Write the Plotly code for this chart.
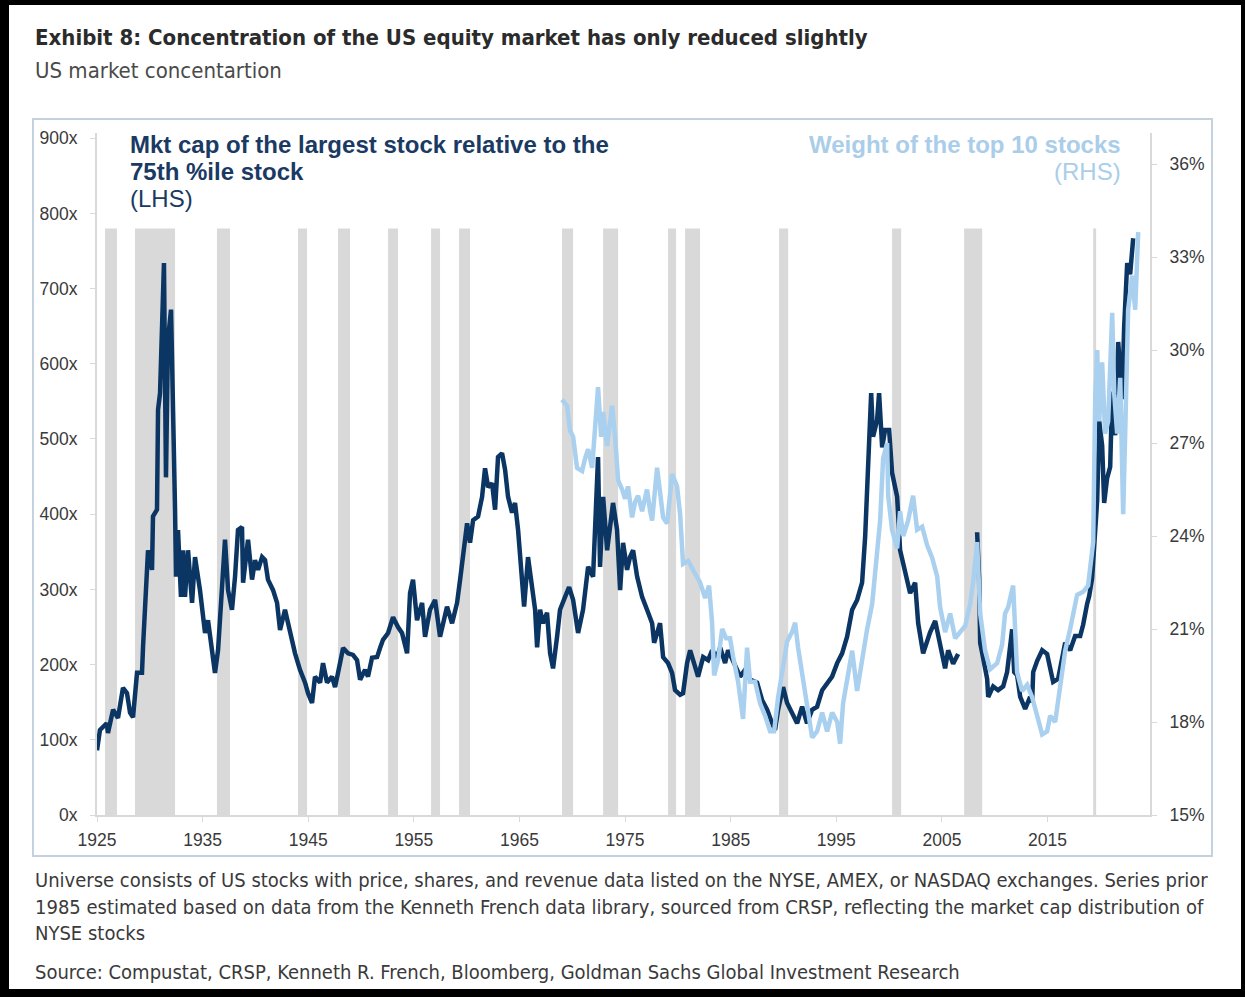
import plotly.graph_objects as go

# ---- data -------------------------------------------------------------
# Market cap of the largest stock relative to the 75th percentile stock (LHS, x)
dark_year = [
    1925.00, 1925.28, 1925.92, 1926.04, 1926.52, 1926.99, 1927.46, 1927.84, 1928.13, 1928.41,
    1928.79, 1929.26, 1929.36, 1929.73, 1929.83, 1930.21, 1930.30, 1930.68, 1930.78, 1930.97,
    1931.34, 1931.53, 1931.72, 1932.01, 1932.20, 1932.39, 1932.48, 1932.67, 1932.95, 1933.14,
    1933.33, 1933.62, 1934.00, 1934.28, 1934.75, 1935.23, 1935.51, 1935.89, 1936.17, 1936.46,
    1936.84, 1937.12, 1937.41, 1937.78, 1938.07, 1938.35, 1938.73, 1938.83, 1939.30, 1939.68,
    1939.96, 1940.25, 1940.63, 1940.91, 1941.19, 1941.67, 1942.05, 1942.33, 1942.80, 1943.28,
    1943.75, 1944.22, 1944.70, 1944.98, 1945.36, 1945.64, 1946.12, 1946.40, 1946.78, 1947.25,
    1947.54, 1947.82, 1948.30, 1948.77, 1949.24, 1949.62, 1949.91, 1950.38, 1950.66, 1951.04,
    1951.52, 1951.80, 1952.08, 1952.56, 1953.03, 1953.50, 1953.88, 1954.36, 1954.64, 1954.92,
    1955.30, 1955.78, 1956.06, 1956.53, 1957.01, 1957.48, 1958.14, 1958.62, 1959.09, 1959.38,
    1959.66, 1960.04, 1960.32, 1960.61, 1961.08, 1961.46, 1961.74, 1962.03, 1962.41, 1962.69,
    1962.97, 1963.35, 1963.64, 1963.92, 1964.30, 1964.58, 1964.87, 1965.25, 1965.44, 1965.81,
    1966.19, 1966.48, 1966.67, 1966.95, 1967.23, 1967.61, 1967.90, 1968.18, 1968.56, 1968.84,
    1969.32, 1969.70, 1970.08, 1970.55, 1971.02, 1971.50, 1971.97, 1972.25, 1972.44, 1972.63,
    1972.92, 1973.30, 1973.58, 1973.86, 1974.24, 1974.53, 1974.81, 1975.19, 1975.47, 1975.76,
    1976.14, 1976.61, 1977.08, 1977.56, 1977.75, 1978.31, 1978.60, 1979.07, 1979.45, 1979.73,
    1980.21, 1980.49, 1980.87, 1981.16, 1981.44, 1981.91, 1982.39, 1982.86, 1983.24, 1983.71,
    1984.00, 1984.47, 1984.75, 1985.13, 1985.61, 1985.89, 1986.36, 1986.84, 1987.50, 1987.97,
    1988.45, 1988.92, 1989.20, 1989.49, 1989.96, 1990.34, 1990.81, 1991.29, 1991.76, 1992.23,
    1992.71, 1993.18, 1993.66, 1994.13, 1994.60, 1995.08, 1995.55, 1996.02, 1996.50, 1996.97,
    1997.44, 1997.73, 1998.01, 1998.30, 1998.48, 1998.86, 1999.05, 1999.34, 1999.62, 2000.00,
    2000.28, 2000.76, 2001.04, 2001.52, 2001.99, 2002.46, 2002.75, 2003.22, 2003.69, 2003.88,
    2004.36, 2004.83, 2005.30, 2005.59, 2006.06, 2006.53, 2007.40, 2008.33, 2008.52, 2008.62,
    2008.90, 2009.28, 2009.38, 2009.85, 2010.32, 2010.80, 2011.17, 2011.46, 2011.65, 2011.84,
    2012.12, 2012.41, 2012.88, 2013.35, 2013.54, 2013.64, 2014.02, 2014.49, 2014.96, 2015.25,
    2015.53, 2016.00, 2016.38, 2016.67, 2017.14, 2017.61, 2018.09, 2018.37, 2018.75, 2018.94,
    2019.22, 2019.41, 2019.70, 2019.89, 2020.17, 2020.36, 2020.64, 2020.93, 2021.12, 2021.40,
    2021.69, 2022.06, 2022.25, 2022.54, 2022.82, 2023.11,
]
dark_val = [
    86, 113, 122, 109, 140, 129, 169, 162, 136, 130,
    189, 189, 224, 317, 352, 326, 397, 406, 539, 561,
    734, 449, 632, 672, 556, 406, 317, 379, 290, 352,
    290, 352, 282, 343, 299, 242, 259, 219, 189, 219,
    309, 366, 299, 273, 317, 379, 383, 309, 366, 313,
    339, 326, 343, 339, 313, 299, 282, 246, 273, 242,
    215, 193, 176, 162, 149, 184, 176, 202, 176, 184,
    170, 189, 222, 215, 213, 206, 180, 193, 184, 209,
    210, 222, 233, 242, 263, 250, 242, 215, 295, 313,
    259, 282, 237, 273, 286, 237, 277, 255, 282, 313,
    343, 388, 362, 392, 397, 423, 461, 436, 441, 406,
    476, 481, 459, 423, 402, 415, 379, 309, 277, 343,
    303, 273, 223, 273, 255, 269, 215, 195, 237, 273,
    290, 303, 286, 242, 273, 330, 317, 415, 476, 330,
    423, 352, 388, 415, 379, 299, 362, 326, 343, 352,
    317, 290, 273, 255, 229, 255, 210, 202, 189, 166,
    160, 162, 202, 219, 206, 184, 210, 206, 219, 210,
    223, 202, 219, 206, 193, 184, 193, 180, 176, 153,
    140, 122, 113, 140, 170, 149, 136, 122, 144, 122,
    140, 144, 166, 176, 184, 202, 215, 237, 273, 286,
    309, 370, 459, 561, 503, 525, 561, 489, 512, 512,
    455, 423, 352, 326, 295, 309, 255, 215, 237, 243,
    258, 223, 195, 219, 201, 214, None, 376, 315, 229,
    210, 181, 157, 171, 166, 171, 190, 229, 247, 190,
    186, 157, 141, 157, 150, 190, 205, 219, 214, 195,
    177, 181, 210, 229, 219, 238, 238, 253, 281, 291,
    315, 362, 419, 524, 491, 415, 448, 463, 563, 505,
    629, 553, 648, 734, 719, 767,
]

# Weight of the top 10 stocks (RHS, %)
light_year = [
    1969.03, 1969.51, 1969.79, 1970.08, 1970.45, 1970.93, 1971.21, 1971.50, 1971.88, 1972.16,
    1972.44, 1972.73, 1972.92, 1973.30, 1973.77, 1974.05, 1974.34, 1974.72, 1975.00, 1975.28,
    1975.66, 1975.95, 1976.23, 1976.61, 1977.08, 1977.37, 1977.56, 1978.03, 1978.60, 1978.98,
    1979.45, 1979.92, 1980.21, 1980.49, 1980.97, 1981.44, 1982.10, 1982.58, 1982.95, 1983.24,
    1983.43, 1983.81, 1984.19, 1984.57, 1984.94, 1985.23, 1985.70, 1986.17, 1986.55, 1986.84,
    1987.31, 1987.78, 1988.26, 1988.73, 1989.11, 1989.49, 1989.87, 1990.34, 1990.81, 1991.10,
    1991.38, 1991.86, 1992.33, 1992.71, 1993.18, 1993.66, 1994.13, 1994.60, 1995.08, 1995.36,
    1995.64, 1996.12, 1996.50, 1996.97, 1997.44, 1997.92, 1998.39, 1998.86, 1999.15, 1999.43,
    1999.81, 1999.91, 2000.28, 2000.76, 2001.04, 2001.33, 2001.80, 2002.27, 2002.65, 2003.13,
    2003.60, 2004.07, 2004.55, 2004.83, 2005.30, 2005.78, 2006.25, 2006.72, 2007.20, 2007.67,
    2007.95, 2008.33, 2008.62, 2009.09, 2009.56, 2010.23, 2010.70, 2010.98, 2011.27, 2011.74,
    2012.12, 2012.59, 2013.07, 2013.54, 2014.02, 2014.49, 2014.96, 2015.25, 2015.72, 2016.19,
    2016.67, 2017.14, 2017.80, 2018.37, 2018.84, 2019.32, 2019.51, 2019.70, 2019.89, 2020.17,
    2020.45, 2020.74, 2021.12, 2021.31, 2021.59, 2021.88, 2022.16, 2022.35, 2022.63, 2023.01,
    2023.30, 2023.58,
]
light_val = [
    28.4, 28.2, 27.4, 27.2, 26.2, 26.1, 26.5, 26.8, 26.2, 27.4,
    28.8, 27.2, 28.0, 26.9, 28.2, 27.2, 25.8, 25.5, 25.2, 25.6,
    24.6, 25.1, 25.3, 24.8, 25.5, 24.8, 24.5, 26.2, 24.6, 24.4,
    26.0, 25.6, 24.7, 23.1, 23.2, 22.9, 22.5, 22.0, 22.4, 21.2,
    19.5, 20.0, 21.0, 20.7, 20.7, 20.1, 19.3, 18.1, 20.4, 19.3,
    19.3, 18.6, 18.2, 17.7, 17.7, 18.8, 19.7, 20.6, 20.9, 21.2,
    20.4, 19.3, 18.4, 17.5, 17.7, 18.3, 17.7, 18.3, 18.0, 17.3,
    18.6, 19.5, 20.3, 19.0, 20.1, 21.0, 21.8, 23.3, 24.5, 26.5,
    27.0, 25.3, 24.2, 23.6, 24.8, 24.0, 24.5, 25.3, 24.2, 24.3,
    23.7, 23.3, 22.7, 21.7, 20.9, 21.5, 20.7, 20.9, 21.1, 21.8,
    22.5, 23.8, 21.5, 20.3, 19.7, 19.9, 20.5, 21.5, 21.7, 22.4,
    19.6, 19.0, 19.2, 18.8, 18.2, 17.6, 17.7, 18.2, 18.0, 19.2,
    20.3, 21.0, 22.1, 22.2, 22.4, 23.8, 28.4, 30.0, 27.7, 29.6,
    27.3, 27.7, 31.2, 28.6, 27.3, 29.1, 24.7, 27.3, 31.3, 32.4,
    31.3, 33.8,
]

# Shaded recession periods
recession_start = [1925.76, 1928.60, 1936.36, 1944.03, 1947.82, 1952.56, 1956.63, 1959.28,
                   1969.03, 1972.92, 1979.07, 1980.68, 1989.58, 2000.28, 2007.10, 2019.32]
recession_end = [1926.89, 1932.39, 1937.59, 1944.89, 1948.96, 1953.50, 1957.48, 1960.32,
                 1970.08, 1974.34, 1979.83, 1982.10, 1990.44, 2001.14, 2008.81, 2019.60]
recession_top = 780

x_ticks = [1925, 1935, 1945, 1955, 1965, 1975, 1985, 1995, 2005, 2015]
lhs_ticks = [0, 100, 200, 300, 400, 500, 600, 700, 800, 900]
rhs_ticks = [15, 18, 21, 24, 27, 30, 33, 36]

lhs_label = ["Mkt cap of the largest stock relative to the", "75th %ile stock", "(LHS)"]
rhs_label = ["Weight of the top 10 stocks", "(RHS)"]
note_lines = [
    "Universe consists of US stocks with price, shares, and revenue data listed on the NYSE, AMEX, or NASDAQ exchanges. Series prior",
    "1985 estimated based on data from the Kenneth French data library, sourced from CRSP, reflecting the market cap distribution of",
    "NYSE stocks",
]
source_line = "Source: Compustat, CRSP, Kenneth R. French, Bloomberg, Goldman Sachs Global Investment Research"

# ---- styling ----------------------------------------------------------
W, H = 1245, 997
NAVY = "#0b3563"
LIGHT = "#a9d0ef"
BAND = "#d9d9d9"
AXIS = "#d9d9d9"
SANS = "Liberation Sans, Arial, sans-serif"
NARROW = "Liberation Sans Narrow, Arial Narrow, DejaVu Sans Condensed, sans-serif"
TICKFONT = dict(family=SANS, size=17.5, color="#3a3a3a")


def px(x):
    return x / W


def py(y):
    return 1 - y / H


fig = go.Figure()

fig.add_trace(go.Scatter(
    x=light_year, y=light_val, yaxis="y2", mode="lines",
    line=dict(color=LIGHT, width=4.5), name="Weight of the top 10 stocks (RHS)",
    showlegend=False,
))
fig.add_trace(go.Scatter(
    x=dark_year, y=dark_val, mode="lines", connectgaps=False,
    line=dict(color=NAVY, width=4.5), name="Mkt cap of the largest stock (LHS)",
    showlegend=False,
))

shapes = []
for s, e in zip(recession_start, recession_end):
    shapes.append(dict(type="rect", xref="x", yref="y", x0=s, x1=e, y0=0, y1=recession_top,
                       fillcolor=BAND, line=dict(width=0), layer="below"))

# chart panel outline
shapes.append(dict(type="rect", xref="paper", yref="paper",
                   x0=px(33), x1=px(1212), y0=py(856), y1=py(119),
                   line=dict(color="#c4d1de", width=2), fillcolor="rgba(0,0,0,0)", layer="below"))
# outer black frame
for x0, x1, y0, y1 in [(0, 9, 0, H), (1241, W, 0, H), (0, W, 0, 5), (0, W, 989, H)]:
    shapes.append(dict(type="rect", xref="paper", yref="paper",
                       x0=px(x0), x1=px(x1), y0=py(y1), y1=py(y0),
                       fillcolor="#000000", line=dict(width=0), layer="above"))

annotations = [
    dict(text="<b>Exhibit 8: Concentration of the US equity market has only reduced slightly</b>",
         x=px(33), y=py(37), xanchor="left", yanchor="middle",
         font=dict(family=NARROW, size=22, color="#2b2b2b")),
    dict(text="US market concentartion",
         x=px(33), y=py(71), xanchor="left", yanchor="middle",
         font=dict(family=NARROW, size=22, color="#4a4a4a")),
]
# series labels, one annotation per line for exact spacing
for i, (txt, bold) in enumerate(zip(lhs_label, [True, True, False])):
    annotations.append(dict(text=f"<b>{txt}</b>" if bold else txt,
                            x=px(128), y=py(145 + 27 * i), xanchor="left", yanchor="middle",
                            font=dict(family=SANS, size=24, color="#1a3a63")))
for i, (txt, bold) in enumerate(zip(rhs_label, [True, False])):
    annotations.append(dict(text=f"<b>{txt}</b>" if bold else txt,
                            x=px(1123), y=py(145 + 27 * i), xanchor="right", yanchor="middle",
                            font=dict(family=SANS, size=24, color="#aacde9")))
for i, txt in enumerate(note_lines):
    annotations.append(dict(text=txt, x=px(33), y=py(880 + 26.5 * i), xanchor="left", yanchor="middle",
                            font=dict(family=NARROW, size=20, color="#3a3a3a")))
annotations.append(dict(text=source_line, x=px(33), y=py(972), xanchor="left", yanchor="middle",
                        font=dict(family=NARROW, size=20, color="#3a3a3a")))
for a in annotations:
    a.update(xref="paper", yref="paper", showarrow=False)

fig.update_layout(
    width=W, height=H,
    margin=dict(l=0, r=0, t=0, b=0, autoexpand=False),
    paper_bgcolor="white", plot_bgcolor="white",
    shapes=shapes, annotations=annotations,
    xaxis=dict(
        domain=[px(97), px(1150)], range=[1925, 2024.7], automargin=False,
        tickmode="array", tickvals=x_ticks, ticktext=[str(t) for t in x_ticks],
        showgrid=False, zeroline=False, showline=True, linecolor=AXIS, linewidth=2,
        ticks="outside", ticklen=5, tickcolor=AXIS, tickfont=TICKFONT, ticklabelstandoff=3,
        anchor="y",
    ),
    yaxis=dict(
        domain=[py(815), py(133)], range=[0, 906.9], automargin=False,
        tickmode="array", tickvals=lhs_ticks, ticktext=[f"{t}x" for t in lhs_ticks],
        showgrid=False, zeroline=False, showline=True, linecolor=AXIS, linewidth=2,
        ticks="outside", ticklen=5, tickcolor=AXIS, tickfont=TICKFONT, ticklabelstandoff=9,
    ),
    yaxis2=dict(
        domain=[py(815), py(133)], range=[15, 37.0], overlaying="y", side="right", automargin=False,
        tickmode="array", tickvals=rhs_ticks, ticktext=[f"{t}%" for t in rhs_ticks],
        showgrid=False, zeroline=False, showline=True, linecolor=AXIS, linewidth=2,
        ticks="outside", ticklen=5, tickcolor=AXIS, tickfont=TICKFONT, ticklabelstandoff=9,
        anchor="x",
    ),
)

fig.write_html("out.html")
